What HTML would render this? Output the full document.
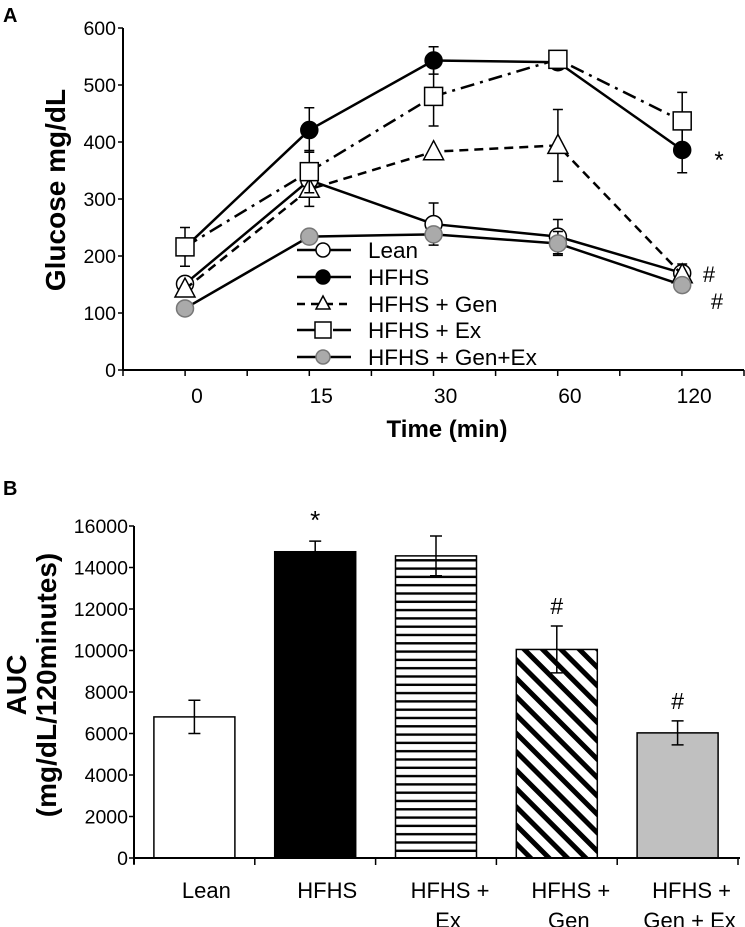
<!DOCTYPE html>
<html><head><meta charset="utf-8"><style>
html,body{margin:0;padding:0;background:#fff;}
svg{display:block;font-family:"Liberation Sans",Arial,sans-serif;}
</style></head><body>
<svg id="fig" width="745" height="927" viewBox="0 0 745 927" xmlns="http://www.w3.org/2000/svg">
<defs>
<pattern id="hstripe" width="10" height="8.3" patternUnits="userSpaceOnUse"><rect width="10" height="8.3" fill="#fff"/><rect y="3" width="10" height="2.4" fill="#000"/></pattern>
<pattern id="dstripe" width="13" height="13" patternUnits="userSpaceOnUse" patternTransform="rotate(-45)"><rect width="13" height="13" fill="#fff"/><rect x="0" width="5" height="13" fill="#000"/></pattern>
</defs>
<g id="pa"></g>
<g id="pb"></g>
</svg>
<script>
// Panel A data
const timeLabels = ["0","15","30","60","120"];
const seriesNames = ["Lean","HFHS","HFHS + Gen","HFHS + Ex","HFHS + Gen+Ex"];
const leanVals = [151, 333, 256, 234, 170];
const leanErr = [0, 0, 37, 30, 16];
const hfhsVals = [215, 421, 543, 540, 386];
const hfhsErr = [0, 39, 24, 0, 40];
const genVals = [142, 317, 383, 394, 167];
const genErr = [0, 30, 0, 63, 0];
const exVals = [216, 348, 480, 545, 437];
const exErr = [34, 37, 52, 0, 50];
const genexVals = [108, 234, 238, 222, 149];
const genexErr = [0, 0, 0, 21, 0];
const aTicks = [0,100,200,300,400,500,600];
// Panel B data
const groups = [["Lean"],["HFHS"],["HFHS +","Ex"],["HFHS  +","Gen"],["HFHS +","Gen + Ex"]];
const aucVals = [6800, 14760, 14560, 10050, 6030];
const aucErr = [800, 510, 960, 1130, 580];
const bTicks = [0,2000,4000,6000,8000,10000,12000,14000,16000];
const bMarks = ["", "*", "", "#", "#"];

const NS="http://www.w3.org/2000/svg";
function mk(parent,tag,attrs,text){const e=document.createElementNS(NS,tag);for(const k in attrs)e.setAttribute(k,attrs[k]);if(text!==undefined)e.textContent=text;parent.appendChild(e);return e;}

// ----- Panel A -----
const pa=document.getElementById('pa');
const ax0=123, ay0=370, ayTop=28;
const ya=v=>ay0-(v/600)*(ay0-ayTop);
const xa=i=>185+i*124.3;
let t;
t=mk(pa,'text',{x:3,y:22,'font-size':20,'font-weight':'bold'},'A');


let ln=mk(pa,'line',{x1:ax0,y1:ayTop,x2:ax0,y2:ay0,stroke:'#000','stroke-width':2});


ln=mk(pa,'line',{x1:ax0,y1:ay0,x2:744,y2:ay0,stroke:'#000','stroke-width':2});


aTicks.forEach(v=>{
  mk(pa,'line',{x1:ax0-5,y1:ya(v),x2:ax0,y2:ya(v),stroke:'#000','stroke-width':1.5});
  const tt=mk(pa,'text',{x:116,y:ya(v)+7,'font-size':19.5,'text-anchor':'end'},String(v));
  
  
});
for(let k=0;k<11;k++){const x=ax0+k*62.1;mk(pa,'line',{x1:x,y1:ay0,x2:x,y2:ay0+6,stroke:'#000','stroke-width':1.5});}
timeLabels.forEach((l,i)=>{
  const tt=mk(pa,'text',{x:xa(i)+12,y:403,'font-size':21,'text-anchor':'middle'},l);
  
  
});
t=mk(pa,'text',{x:447,y:437,'font-size':24,'font-weight':'bold','text-anchor':'middle'},'Time (min)');


t=mk(pa,'text',{x:0,y:0,'font-size':28,'font-weight':'bold','text-anchor':'middle',transform:'translate(65,190) rotate(-90)'},'Glucose mg/dL');



const series=[
 {name:'lean',vals:leanVals,err:leanErr,dash:'',marker:'circle',fill:'#fff'},
 {name:'hfhs',vals:hfhsVals,err:hfhsErr,dash:'',marker:'circle',fill:'#000'},
 {name:'gen',vals:genVals,err:genErr,dash:'9,6',marker:'tri',fill:'#fff'},
 {name:'ex',vals:exVals,err:exErr,dash:'14,6,3,6',marker:'square',fill:'#fff'},
 {name:'genex',vals:genexVals,err:genexErr,dash:'',marker:'circle',fill:'#aaa'}
];
function marker(g,type,x,y,fill,s){
  let m;
  if(type==='circle') m=mk(g,'circle',{cx:x,cy:y,r:s||8.5,fill:fill,stroke:fill==='#aaa'?'#777':'#000','stroke-width':1.5});
  else if(type==='square') m=mk(g,'rect',{x:x-(s||9),y:y-(s||9),width:2*(s||9),height:2*(s||9),fill:fill,stroke:'#000','stroke-width':1.5});
  else {const r=s||10;m=mk(g,'polygon',{points:`${x},${y-r-1} ${x-r},${y+r-2} ${x+r},${y+r-2}`,fill:fill,stroke:'#000','stroke-width':1.5});}
  return m;
}
series.forEach(s=>{
  const g=mk(pa,'g',{});
  
  
  s.vals.forEach((v,i)=>{
    const e=s.err[i]; if(!e) return;
    const x=xa(i);
    const eb=mk(g,'path',{d:`M${x},${ya(v-e)}V${ya(v+e)}M${x-5},${ya(v+e)}H${x+5}M${x-5},${ya(v-e)}H${x+5}`,stroke:'#000','stroke-width':1.5,fill:'none'});
    
    
  });
  const pl=mk(g,'polyline',{points:s.vals.map((v,i)=>xa(i)+','+ya(v)).join(' '),fill:'none',stroke:'#000','stroke-width':2.5,'stroke-dasharray':s.dash});
  
  
  s.vals.forEach((v,i)=>{
    const m=marker(g,s.marker,xa(i),ya(v),s.fill);
    
    
  });
});
// legend
const lg=mk(pa,'g',{});


const legY=[250,277,304,330,357];
series.forEach((s,i)=>{
  const y=legY[i];
  const e=mk(lg,'g',{});
  
  
  mk(e,'line',{x1:297,y1:y,x2:351,y2:y,stroke:'#000','stroke-width':2.5,'stroke-dasharray':s.dash==='9,6'?'8,6':(s.dash?'18,6,6,6':'')});
  marker(e,s.marker,323,y,s.fill,s.marker==='circle'?7:(s.marker==='square'?8:7));
  mk(e,'text',{x:368,y:y+8,'font-size':22.5},seriesNames[i]);
});
[['*',719,168,'sig-star-a',24],['#',709,282,'sig-hash-lean',22],['#',717,309,'sig-hash-genex',22]].forEach(a=>{
  const tt=mk(pa,'text',{x:a[1],y:a[2],'font-size':a[4],'text-anchor':'middle'},a[0]);
  
  
});

// ----- Panel B -----
const pb=document.getElementById('pb');
const bx0=134, by0=858, byTop=526;
const yb=v=>by0-(v/16000)*(by0-byTop);
const catW=120.8;
const xb=i=>bx0+catW*(i+0.5);
t=mk(pb,'text',{x:3,y:495,'font-size':20,'font-weight':'bold'},'B');


const fills=['#fff','#000','url(#hstripe)','url(#dstripe)','#c0c0c0'];
aucVals.forEach((v,i)=>{
  const x=xb(i);
  const r=mk(pb,'rect',{x:x-40.5,y:yb(v),width:81,height:by0-yb(v),fill:fills[i],stroke:'#000','stroke-width':1.5});
  
  
  const e=aucErr[i];
  const eb=mk(pb,'path',{d:`M${x},${yb(v-e)}V${yb(v+e)}M${x-6},${yb(v+e)}H${x+6}M${x-6},${yb(v-e)}H${x+6}`,stroke:'#000','stroke-width':1.5,fill:'none'});
  
  
  if(bMarks[i]){
    const mt=mk(pb,'text',{x:x,y:yb(v+e)-(bMarks[i]==='*'?12:12),'font-size':bMarks[i]==='*'?26:23,'text-anchor':'middle'},bMarks[i]);
    
    
  }
  groups[i].forEach((l,j)=>{
    const tt=mk(pb,'text',{x:x+(j===0&&groups[i].length>1?14:12),y:898+j*30,'font-size':22,'text-anchor':'middle'},l);
    
    
  });
});
ln=mk(pb,'line',{x1:bx0,y1:byTop,x2:bx0,y2:by0+6,stroke:'#000','stroke-width':2});


ln=mk(pb,'line',{x1:bx0,y1:by0,x2:740,y2:by0,stroke:'#000','stroke-width':2});


for(let k=0;k<=5;k++){const x=bx0+k*catW;mk(pb,'line',{x1:x,y1:by0,x2:x,y2:by0+7,stroke:'#000','stroke-width':1.5});}
bTicks.forEach(v=>{
  mk(pb,'line',{x1:bx0-5,y1:yb(v),x2:bx0,y2:yb(v),stroke:'#000','stroke-width':1.5});
  const tt=mk(pb,'text',{x:128,y:yb(v)+7,'font-size':19.5,'text-anchor':'end'},String(v));
  
  
});
t=mk(pb,'text',{x:0,y:0,'font-size':28,'font-weight':'bold','text-anchor':'middle',transform:'translate(26,685) rotate(-90)'},'AUC');


t=mk(pb,'text',{x:0,y:0,'font-size':28,'font-weight':'bold','text-anchor':'middle',transform:'translate(56,685) rotate(-90)'},'(mg/dL/120minutes)');


</script>
</body></html>
